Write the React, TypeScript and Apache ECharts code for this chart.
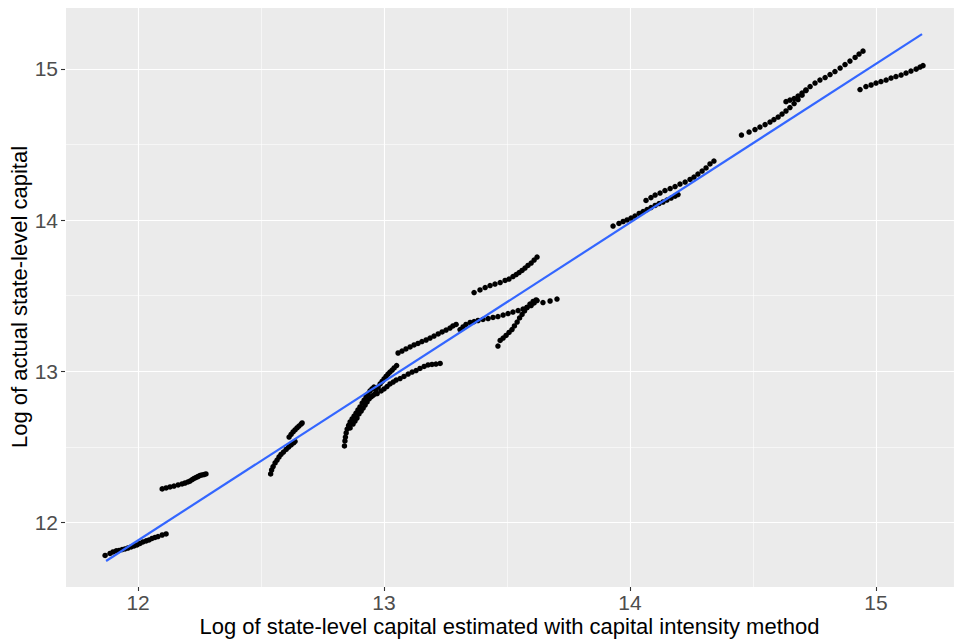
import React, { useEffect, useRef } from "react";
import * as echarts from "echarts";

// Each group: [estimated (x), actual (y)] log capital
const groupA: number[][] = [
  [11.866, 11.782], [11.886, 11.795], [11.898, 11.805], [11.911, 11.812], [11.923, 11.815],
  [11.935, 11.821], [11.947, 11.825], [11.959, 11.831], [11.972, 11.838], [11.984, 11.845],
  [11.996, 11.851], [12.008, 11.861], [12.02, 11.871], [12.033, 11.878], [12.045, 11.884],
  [12.057, 11.894], [12.069, 11.901], [12.081, 11.907], [12.098, 11.917], [12.114, 11.924],
];
const groupB: number[][] = [
  [12.098, 12.222], [12.114, 12.228], [12.13, 12.235], [12.146, 12.241], [12.163, 12.248],
  [12.179, 12.255], [12.191, 12.261], [12.203, 12.268], [12.211, 12.274], [12.22, 12.284],
  [12.228, 12.291], [12.236, 12.298], [12.244, 12.304], [12.252, 12.311], [12.26, 12.314],
  [12.268, 12.317], [12.276, 12.321],
];
const groupC1: number[][] = [
  [12.539, 12.321], [12.543, 12.347], [12.549, 12.37], [12.557, 12.394], [12.565, 12.413],
  [12.573, 12.433], [12.581, 12.45], [12.591, 12.466], [12.602, 12.483], [12.612, 12.499],
  [12.622, 12.513], [12.632, 12.526], [12.638, 12.536],
];
const groupC2: number[][] = [
  [12.614, 12.565], [12.622, 12.582], [12.63, 12.599], [12.638, 12.612], [12.646, 12.625],
  [12.654, 12.638], [12.663, 12.651], [12.667, 12.658],
];
const groupD1: number[][] = [
  [12.839, 12.506], [12.841, 12.539], [12.843, 12.565], [12.846, 12.592], [12.85, 12.618],
  [12.856, 12.642], [12.862, 12.665], [12.87, 12.685], [12.878, 12.704], [12.886, 12.724],
  [12.894, 12.744], [12.902, 12.764], [12.911, 12.79], [12.919, 12.81], [12.927, 12.83],
  [12.935, 12.85], [12.943, 12.87], [12.951, 12.883], [12.959, 12.896],
];
const groupD2: number[][] = [
  [12.862, 12.625], [12.874, 12.651], [12.882, 12.671], [12.89, 12.691], [12.898, 12.718],
  [12.907, 12.737], [12.915, 12.757], [12.923, 12.777], [12.931, 12.797], [12.939, 12.817],
  [12.947, 12.83], [12.955, 12.84], [12.963, 12.85],
];
const groupD3: number[][] = [
  [12.967, 12.876], [12.976, 12.896], [12.984, 12.916], [12.992, 12.933], [13.0, 12.949],
  [13.008, 12.966], [13.016, 12.982], [13.024, 12.995], [13.033, 13.008], [13.041, 13.022],
  [13.051, 13.038],
];
const groupD4: number[][] = [
  [12.972, 12.853], [12.988, 12.87], [13.0, 12.883], [13.012, 12.899], [13.024, 12.916],
  [13.037, 12.929], [13.049, 12.942], [13.065, 12.952], [13.081, 12.966], [13.098, 12.982],
  [13.114, 12.995], [13.13, 13.005], [13.146, 13.019], [13.163, 13.032], [13.179, 13.042],
  [13.195, 13.045], [13.211, 13.048], [13.228, 13.052],
];
const groupE: number[][] = [
  [13.057, 13.121], [13.073, 13.134], [13.089, 13.148], [13.106, 13.161], [13.122, 13.174],
  [13.138, 13.184], [13.154, 13.197], [13.171, 13.207], [13.187, 13.22], [13.203, 13.233],
  [13.22, 13.247], [13.236, 13.26], [13.252, 13.273], [13.268, 13.286], [13.28, 13.3],
  [13.293, 13.31],
];
const groupF: number[][] = [
  [13.309, 13.276], [13.321, 13.293], [13.333, 13.31], [13.35, 13.323], [13.366, 13.329],
  [13.382, 13.336], [13.402, 13.343], [13.423, 13.349], [13.443, 13.356], [13.463, 13.362],
  [13.484, 13.372], [13.504, 13.382], [13.524, 13.392], [13.545, 13.402], [13.565, 13.412],
  [13.581, 13.422], [13.598, 13.435], [13.61, 13.452], [13.622, 13.468], [13.646, 13.455],
  [13.675, 13.465], [13.703, 13.478],
];
const groupG: number[][] = [
  [13.463, 13.167], [13.472, 13.204], [13.484, 13.22], [13.496, 13.237], [13.508, 13.257],
  [13.52, 13.276], [13.53, 13.3], [13.541, 13.326], [13.551, 13.353], [13.561, 13.376],
  [13.571, 13.399], [13.581, 13.422], [13.593, 13.445], [13.606, 13.462], [13.618, 13.472],
];
const groupH: number[][] = [
  [13.366, 13.521], [13.39, 13.538], [13.411, 13.554], [13.431, 13.567], [13.451, 13.577],
  [13.472, 13.587], [13.492, 13.601], [13.508, 13.61], [13.524, 13.627], [13.537, 13.64],
  [13.549, 13.653], [13.561, 13.667], [13.573, 13.683], [13.585, 13.7], [13.598, 13.716],
  [13.61, 13.736], [13.622, 13.756],
];
const groupI: number[][] = [
  [13.931, 13.961], [13.955, 13.978], [13.972, 13.991], [13.988, 14.001], [14.004, 14.014],
  [14.02, 14.027], [14.037, 14.044], [14.053, 14.057], [14.069, 14.07], [14.085, 14.083],
  [14.102, 14.097], [14.118, 14.11], [14.134, 14.12], [14.15, 14.133], [14.167, 14.146],
  [14.183, 14.159], [14.195, 14.169],
];
const groupJ: number[][] = [
  [14.065, 14.13], [14.085, 14.149], [14.102, 14.166], [14.122, 14.179], [14.142, 14.196],
  [14.163, 14.209], [14.183, 14.222], [14.203, 14.239], [14.224, 14.252], [14.244, 14.269],
  [14.26, 14.285], [14.276, 14.305], [14.293, 14.325], [14.309, 14.345], [14.325, 14.372],
  [14.341, 14.391],
];
const groupK: number[][] = [
  [14.453, 14.563], [14.484, 14.583], [14.508, 14.599], [14.528, 14.616], [14.549, 14.632],
  [14.569, 14.649], [14.585, 14.665], [14.602, 14.682], [14.618, 14.702], [14.634, 14.722],
  [14.65, 14.745], [14.667, 14.771], [14.683, 14.798], [14.699, 14.827], [14.715, 14.857],
  [14.732, 14.884], [14.752, 14.907], [14.772, 14.927], [14.793, 14.943], [14.813, 14.963],
  [14.833, 14.983], [14.854, 15.006], [14.874, 15.029], [14.894, 15.052], [14.915, 15.076],
  [14.931, 15.099], [14.947, 15.118],
];
const groupK2: number[][] = [
  [14.634, 14.784], [14.65, 14.794], [14.667, 14.804], [14.683, 14.821], [14.699, 14.841],
  [14.715, 14.861],
];
const groupL: number[][] = [
  [14.935, 14.864], [14.959, 14.884], [14.98, 14.894], [15.0, 14.907], [15.02, 14.917],
  [15.041, 14.927], [15.061, 14.94], [15.081, 14.95], [15.102, 14.96], [15.122, 14.973],
  [15.142, 14.986], [15.163, 14.999], [15.179, 15.013], [15.191, 15.022],
];

// Fitted regression line end points
const fitLine: number[][] = [
  [11.87, 11.745],
  [15.187, 15.231],
];

const xTitle = "Log of state-level capital estimated with capital intensity method";
const yTitle = "Log of actual state-level capital";

const allPoints: number[][] = [
  ...groupA, ...groupB, ...groupC1, ...groupC2, ...groupD1, ...groupD2, ...groupD3,
  ...groupD4, ...groupE, ...groupF, ...groupG, ...groupH, ...groupI, ...groupJ,
  ...groupK, ...groupK2, ...groupL,
];

const FONT = "'Liberation Sans', Arial, sans-serif";

export default function App() {
  const ref = useRef<HTMLDivElement>(null);
  useEffect(() => {
    if (!ref.current) return;
    const chart = echarts.init(ref.current, undefined, { renderer: "svg" });
    const axisCommon = {
      type: "value" as const,
      minInterval: 1,
      maxInterval: 1,
      axisLine: { show: false },
      axisTick: { show: true, length: 4, lineStyle: { color: "#333333", width: 1.1 } },
      axisLabel: {
        color: "#4D4D4D",
        fontSize: 21,
        lineHeight: 17,
        fontFamily: FONT,
        margin: 7,
        showMinLabel: false,
        showMaxLabel: false,
      },
      splitLine: { show: true, lineStyle: { color: "#FFFFFF", width: 1.1 } },
      minorTick: { show: false, splitNumber: 2 },
      minorSplitLine: { show: true, lineStyle: { color: "#FFFFFF", width: 0.55 } },
      nameLocation: "middle" as const,
      nameMoveOverlap: false,
      nameTextStyle: { color: "#000000", fontSize: 22, lineHeight: 22, fontFamily: FONT },
    };
    chart.setOption({
      animation: false,
      backgroundColor: "#FFFFFF",
      textStyle: { fontFamily: FONT },
      grid: {
        left: 65,
        right: 0,
        top: 7,
        bottom: 52,
        show: true,
        backgroundColor: "#EBEBEB",
        borderWidth: 0,
        containLabel: false,
        outerBoundsMode: "none",
      },
      xAxis: {
        ...axisCommon,
        min: 11.703,
        max: 15.317,
        name: xTitle,
        nameGap: 28,
      },
      yAxis: {
        ...axisCommon,
        min: 11.573,
        max: 15.41,
        name: yTitle,
        nameGap: 35,
      },
      series: [
        {
          type: "scatter",
          data: allPoints,
          symbol: "circle",
          symbolSize: 5.5,
          itemStyle: { color: "#000000", opacity: 1 },
          z: 2,
        },
        {
          type: "line",
          data: fitLine,
          symbol: "none",
          lineStyle: { color: "#3366FF", width: 2.2 },
          z: 3,
        },
      ],
    });
    return () => chart.dispose();
  }, []);
  return (
    <div
      ref={ref}
      style={{ position: "absolute", left: 0, top: 0, width: 954, height: 639, background: "#FFFFFF" }}
    />
  );
}
